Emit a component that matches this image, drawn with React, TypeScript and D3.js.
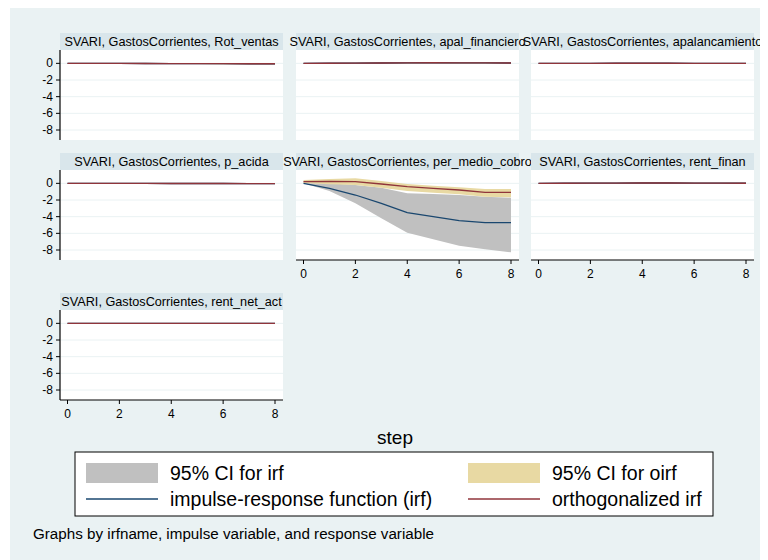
import React from "react";
import * as d3 from "d3";

const irfName = "SVARI";
const impulse = "GastosCorrientes";
const responses = [
  "Rot_ventas",
  "apal_financiero",
  "apalancamiento",
  "p_acida",
  "per_medio_cobro",
  "rent_finan",
  "rent_net_act",
];
const steps = [0, 1, 2, 3, 4, 5, 6, 7, 8];
const yTicks = [0, -2, -4, -6, -8];
const xTicks = [0, 2, 4, 6, 8];

// Rot_ventas
const irfRot = [0, -0.01, -0.01, -0.02, -0.03, -0.03, -0.04, -0.05, -0.05];
const irfRotLo = [0, -0.04, -0.05, -0.07, -0.08, -0.09, -0.1, -0.11, -0.11];
const irfRotHi = [0, 0.02, 0.03, 0.03, 0.02, 0.03, 0.02, 0.01, 0.01];
const oirfRot = [0, -0.01, -0.01, -0.02, -0.03, -0.03, -0.04, -0.05, -0.05];
const oirfRotLo = [-0.02, -0.04, -0.05, -0.07, -0.08, -0.09, -0.1, -0.11, -0.11];
const oirfRotHi = [0.02, 0.02, 0.03, 0.03, 0.02, 0.03, 0.02, 0.01, 0.01];

// apal_financiero
const irfApal = [0, 0.01, 0.02, 0.04, 0.06, 0.07, 0.06, 0.05, 0.04];
const irfApalLo = [0, -0.02, -0.03, -0.02, -0.01, 0, -0.01, -0.02, -0.03];
const irfApalHi = [0, 0.04, 0.07, 0.1, 0.13, 0.14, 0.13, 0.12, 0.11];
const oirfApal = [0, 0.01, 0.02, 0.04, 0.06, 0.07, 0.06, 0.05, 0.04];
const oirfApalLo = [-0.02, -0.02, -0.03, -0.02, -0.01, 0, -0.01, -0.02, -0.03];
const oirfApalHi = [0.02, 0.04, 0.07, 0.1, 0.13, 0.14, 0.13, 0.12, 0.11];

// apalancamiento
const irfApalanc = [0, 0, 0, 0.01, 0.01, 0.01, 0, 0, 0];
const irfApalancLo = [0, -0.02, -0.03, -0.03, -0.03, -0.03, -0.04, -0.04, -0.04];
const irfApalancHi = [0, 0.02, 0.03, 0.04, 0.04, 0.04, 0.04, 0.04, 0.04];
const oirfApalanc = [0, 0, 0, 0.01, 0.01, 0.01, 0, 0, 0];
const oirfApalancLo = [-0.01, -0.02, -0.03, -0.03, -0.03, -0.03, -0.04, -0.04, -0.04];
const oirfApalancHi = [0.01, 0.02, 0.03, 0.04, 0.04, 0.04, 0.04, 0.04, 0.04];

// p_acida
const irfAcida = [0, 0, -0.01, -0.01, -0.02, -0.02, -0.02, -0.03, -0.03];
const irfAcidaLo = [0, -0.02, -0.04, -0.05, -0.06, -0.06, -0.07, -0.07, -0.08];
const irfAcidaHi = [0, 0.02, 0.02, 0.03, 0.02, 0.02, 0.02, 0.01, 0.01];
const oirfAcida = [0, 0, -0.01, -0.01, -0.02, -0.02, -0.02, -0.03, -0.03];
const oirfAcidaLo = [-0.01, -0.02, -0.04, -0.05, -0.06, -0.06, -0.07, -0.07, -0.08];
const oirfAcidaHi = [0.01, 0.02, 0.02, 0.03, 0.02, 0.02, 0.02, 0.01, 0.01];

// per_medio_cobro
const irfCobro = [0, -0.6, -1.4, -2.4, -3.52, -4.0, -4.48, -4.72, -4.72];
const irfCobroLo = [0, -0.92, -2.4, -4.2, -5.92, -6.72, -7.48, -7.92, -8.28];
const irfCobroHi = [0, 0, -0.2, -0.52, -1.2, -1.28, -1.4, -1.6, -1.72];
const oirfCobro = [0.2, 0.22, 0.2, -0.08, -0.4, -0.6, -0.8, -1.08, -1.08];
const oirfCobroLo = [0.04, -0.12, -0.2, -0.52, -0.92, -1.12, -1.32, -1.6, -1.68];
const oirfCobroHi = [0.4, 0.52, 0.6, 0.28, -0.08, -0.28, -0.48, -0.68, -0.68];

// rent_finan
const irfFinan = [0, 0.01, 0.02, 0.03, 0.04, 0.04, 0.03, 0.02, 0.01];
const irfFinanLo = [0, -0.02, -0.02, -0.02, -0.01, -0.01, -0.02, -0.03, -0.04];
const irfFinanHi = [0, 0.04, 0.06, 0.08, 0.09, 0.09, 0.08, 0.07, 0.06];
const oirfFinan = [0, 0.01, 0.02, 0.03, 0.04, 0.04, 0.03, 0.02, 0.01];
const oirfFinanLo = [-0.01, -0.02, -0.02, -0.02, -0.01, -0.01, -0.02, -0.03, -0.04];
const oirfFinanHi = [0.01, 0.04, 0.06, 0.08, 0.09, 0.09, 0.08, 0.07, 0.06];

// rent_net_act
const irfNet = [0, 0, 0, 0, 0, 0, 0, 0, 0];
const irfNetLo = [0, -0.01, -0.01, -0.01, -0.01, -0.01, -0.01, -0.01, -0.01];
const irfNetHi = [0, 0.01, 0.01, 0.01, 0.01, 0.01, 0.01, 0.01, 0.01];
const oirfNet = [0, 0, 0, 0, 0, 0, 0, 0, 0];
const oirfNetLo = [-0.01, -0.01, -0.01, -0.01, -0.01, -0.01, -0.01, -0.01, -0.01];
const oirfNetHi = [0.01, 0.01, 0.01, 0.01, 0.01, 0.01, 0.01, 0.01, 0.01];

const seriesByPanel = [
  [irfRot, irfRotLo, irfRotHi, oirfRot, oirfRotLo, oirfRotHi],
  [irfApal, irfApalLo, irfApalHi, oirfApal, oirfApalLo, oirfApalHi],
  [irfApalanc, irfApalancLo, irfApalancHi, oirfApalanc, oirfApalancLo, oirfApalancHi],
  [irfAcida, irfAcidaLo, irfAcidaHi, oirfAcida, oirfAcidaLo, oirfAcidaHi],
  [irfCobro, irfCobroLo, irfCobroHi, oirfCobro, oirfCobroLo, oirfCobroHi],
  [irfFinan, irfFinanLo, irfFinanHi, oirfFinan, oirfFinanLo, oirfFinanHi],
  [irfNet, irfNetLo, irfNetHi, oirfNet, oirfNetLo, oirfNetHi],
];

const legendLabels = [
  "95% CI for irf",
  "95% CI for oirf",
  "impulse-response function (irf)",
  "orthogonalized irf",
];
const xTitle = "step";
const note = "Graphs by irfname, impulse variable, and response variable";

const FONT = "'Liberation Sans', Arial, Helvetica, sans-serif";
const BG = "#EAF2F3";
const STRIP = "#D9E6EB";
const GRID = "#EAF2F3";
const GREY = "#C0C0C0";
const TAN = "#E8D9A3";
const NAVY = "#1A476F";
const MAROON = "#90353B";

const colX = [60, 296, 531];
const rowTop = [33, 153, 293];
const panelW = 223;
const stripH = 17;
const plotH = 90;
const yDomain = [-9.2, 1.6];
const xDomain = [0, 8];

function Panel({ idx }: { idx: number }) {
  const col = idx % 3;
  const row = Math.floor(idx / 3);
  const left = colX[col];
  const top = rowTop[row];
  const pTop = top + stripH;
  const pBot = pTop + plotH;
  const right = left + panelW;
  const x = d3.scaleLinear().domain(xDomain).range([left + 7.5, right - 8]);
  const y = d3.scaleLinear().domain(yDomain).range([pBot, pTop]);
  const [irf, irfLo, irfHi, oirf, oirfLo, oirfHi] = seriesByPanel[idx];
  const area = (lo: number[], hi: number[]) =>
    d3
      .area<number>()
      .x((s) => x(s))
      .y0((s, i) => y(lo[i]))
      .y1((s, i) => y(hi[i]))(steps) || "";
  const line = (v: number[]) =>
    d3
      .line<number>()
      .x((s) => x(s))
      .y((s, i) => y(v[i]))(steps) || "";
  const showY = col === 0;
  const showX = idx >= responses.length - 3;
  const title = `${irfName}, ${impulse}, ${responses[idx]}`;
  return (
    <g>
      <rect x={left} y={top} width={panelW} height={stripH} fill={STRIP} />
      <rect x={left} y={pTop} width={panelW} height={plotH} fill="#fff" />
      {yTicks.map((t) => (
        <line key={t} x1={left} x2={right} y1={y(t)} y2={y(t)} stroke={GRID} strokeWidth={1} />
      ))}
      <path d={area(irfLo, irfHi)} fill={GREY} />
      <path d={area(oirfLo, oirfHi)} fill={TAN} />
      <path d={line(irf)} fill="none" stroke={NAVY} strokeWidth={1.3} />
      <path d={line(oirf)} fill="none" stroke={MAROON} strokeWidth={1.3} />
      <text
        x={(left + right) / 2}
        y={top + 13}
        textAnchor="middle"
        fontSize={12.7}
        fontFamily={FONT}
        fill="#000"
      >
        {title}
      </text>
      {showY && (
        <g>
          <line x1={left} x2={left} y1={pTop} y2={pBot} stroke="#000" strokeWidth={1.2} />
          {yTicks.map((t) => (
            <g key={t}>
              <line x1={left - 4} x2={left} y1={y(t)} y2={y(t)} stroke="#000" strokeWidth={1} />
              <text
                x={left - 7}
                y={y(t) + 4}
                textAnchor="end"
                fontSize={12}
                fontFamily={FONT}
                fill="#000"
              >
                {t}
              </text>
            </g>
          ))}
        </g>
      )}
      {showX && (
        <g>
          <line x1={left} x2={right} y1={pBot} y2={pBot} stroke="#000" strokeWidth={1.2} />
          {xTicks.map((t) => (
            <g key={t}>
              <line x1={x(t)} x2={x(t)} y1={pBot} y2={pBot + 4} stroke="#000" strokeWidth={1} />
              <text
                x={x(t)}
                y={pBot + 18}
                textAnchor="middle"
                fontSize={12}
                fontFamily={FONT}
                fill="#000"
              >
                {t}
              </text>
            </g>
          ))}
        </g>
      )}
    </g>
  );
}

export default function App() {
  const W = 758;
  const H = 552;
  const legX = 75;
  const legY = 452;
  const legW = 638;
  const legH = 64;
  const swX = [86, 468];
  const rowY = [473, 499];
  return (
    <svg width={W} height={H} style={{ display: "block", marginLeft: 2 }}>
      <g transform="translate(-10,-8)">
        <rect x={10} y={8} width={W} height={H} fill={BG} />
        {responses.map((r, i) => (
          <Panel key={r} idx={i} />
        ))}
        <text x={395} y={444} textAnchor="middle" fontSize={19} fontFamily={FONT} fill="#000">
          {xTitle}
        </text>
        <rect x={legX} y={legY} width={legW} height={legH} fill="#fff" stroke="#000" strokeWidth={1} />
        <rect x={swX[0]} y={rowY[0] - 10} width={72} height={20} fill={GREY} />
        <rect x={swX[1]} y={rowY[0] - 10} width={72} height={20} fill={TAN} />
        <line x1={swX[0]} x2={swX[0] + 72} y1={rowY[1]} y2={rowY[1]} stroke={NAVY} strokeWidth={1.5} />
        <line x1={swX[1]} x2={swX[1] + 72} y1={rowY[1]} y2={rowY[1]} stroke={MAROON} strokeWidth={1.5} />
        {legendLabels.map((l, i) => (
          <text
            key={l}
            x={swX[i % 2] + 84}
            y={rowY[Math.floor(i / 2)] + 7}
            fontSize={19.5}
            fontFamily={FONT}
            fill="#000"
          >
            {l}
          </text>
        ))}
        <text x={33} y={539} fontSize={15.2} fontFamily={FONT} fill="#000">
          {note}
        </text>
      </g>
    </svg>
  );
}
